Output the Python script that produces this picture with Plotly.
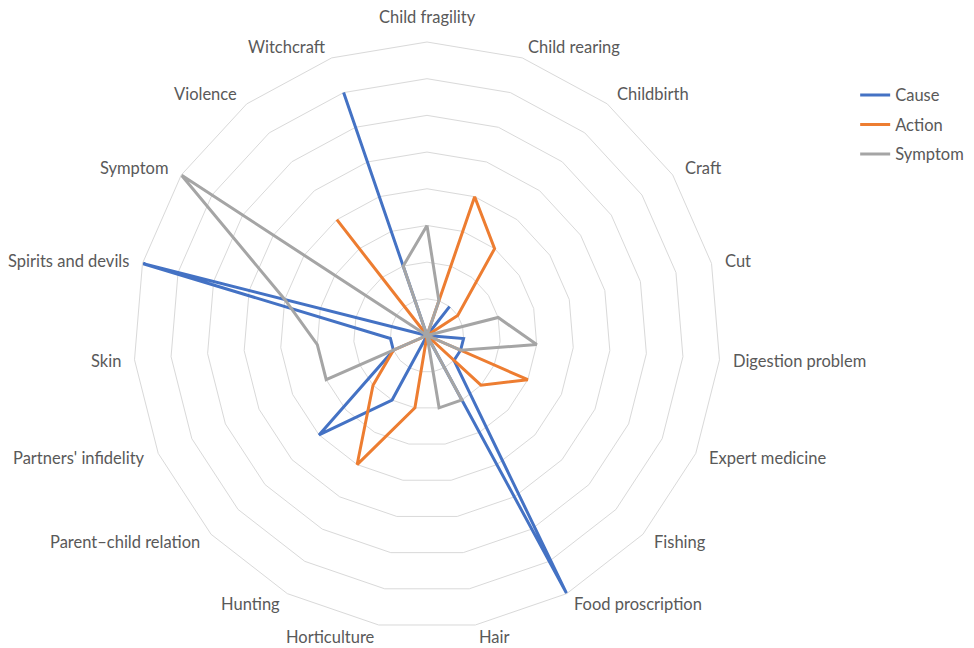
import math
import plotly.graph_objects as go

# Radar categories, clockwise from the top
categories = [
    "Child fragility", "Child rearing", "Childbirth", "Craft", "Cut",
    "Digestion problem", "Expert medicine", "Fishing", "Food proscription",
    "Hair", "Horticulture", "Hunting", "Parent\u2013child relation",
    "Partners' infidelity", "Skin", "Spirits and devils", "Symptom",
    "Violence", "Witchcraft",
]

cause = [0, 0, 1, 0, 0, 1, 1, 1, 8, 0, 0, 2, 4, 1, 1, 8, 0, 0, 7]
action = [0, 4, 3, 1, 0, 0, 3, 2, 0, 0, 2, 4, 2, 1, 0, 0, 0, 4, 0]
symptom = [3, 1, 0, 0, 2, 3, 1, 0, 2, 2, 0, 0, 0, 3, 3, 4, 8, 0, 2]

series = [
    ("Cause", cause, "#4472C4"),
    ("Action", action, "#ED7D31"),
    ("Symptom", symptom, "#A5A5A5"),
]

W, H = 974, 648
CX, CY, R = 427.0, 335.5, 293.5     # polar centre and outer radius, px
grid = "#d9d9d9"
label_color = "#595959"
label_size = 16.5

fig = go.Figure()
for name, vals, color in series:
    fig.add_trace(go.Scatterpolar(
        r=vals + vals[:1],
        theta=categories + categories[:1],
        mode="lines",
        name=name,
        legendgroup=name,
        line=dict(color=color, width=3),
    ))

# Category labels placed just outside each outer vertex, anchored away from centre
annotations = []
n = len(categories)
for i, cat in enumerate(categories):
    a = math.radians(i * 360.0 / n)
    s, c = math.sin(a), math.cos(a)
    vx, vy = CX + R * s, CY - R * c
    px, py = vx + 12 * s, vy - 12 * c
    if abs(s) < 0.05:
        xanchor = "center"
        py = vy - 25 if c > 0 else vy + 25
    else:
        xanchor = "left" if s > 0 else "right"
    annotations.append(dict(
        text=cat, x=px / W, y=1 - py / H, xref="paper", yref="paper",
        xanchor=xanchor, yanchor="middle", showarrow=False,
        font=dict(size=label_size, color=label_color),
    ))

fig.update_layout(
    width=W,
    height=H,
    margin=dict(l=0, r=0, t=0, b=0),
    paper_bgcolor="white",
    plot_bgcolor="white",
    font=dict(family="Lato, 'Open Sans', sans-serif", size=label_size, color=label_color),
    polar=dict(
        domain=dict(x=[(CX - R) / W, (CX + R) / W], y=[1 - (CY + R) / H, 1 - (CY - R) / H]),
        gridshape="linear",
        bgcolor="white",
        radialaxis=dict(
            range=[0, 8], dtick=1, showticklabels=False, ticks="",
            showline=False, gridcolor=grid, gridwidth=1,
        ),
        angularaxis=dict(
            direction="clockwise", rotation=90,
            showgrid=False, showline=True, linecolor=grid, linewidth=1,
            showticklabels=False, ticks="",
        ),
    ),
    annotations=annotations,
    legend=dict(
        x=0.878, y=0.88, xanchor="left", yanchor="top",
        font=dict(size=label_size, color=label_color),
        itemwidth=30, tracegroupgap=5,
    ),
)

fig.write_html("out.html")
